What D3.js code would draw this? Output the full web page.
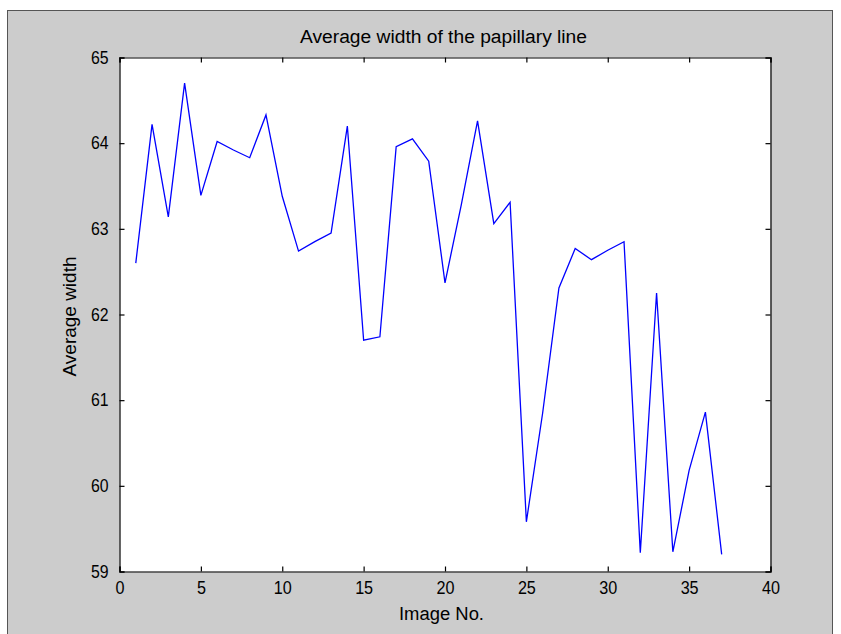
<!DOCTYPE html>
<html>
<head>
<meta charset="utf-8">
<script src="https://cdn.jsdelivr.net/npm/d3@7"></script>
<style>
  html, body { margin: 0; padding: 0; background: #ffffff; }
  svg { display: block; }
  text { font-family: "Liberation Sans", Arial, sans-serif; fill: #000; }
</style>
</head>
<body>
<svg id="chart" width="841" height="634"></svg>
<script>
const imageNo = [1,2,3,4,5,6,7,8,9,10,11,12,13,14,15,16,17,18,19,20,21,22,23,24,25,26,27,28,29,30,31,32,33,34,35,36,37];
const avgWidth = [62.60,64.22,63.14,64.70,63.39,64.02,63.92,63.83,64.33,63.38,62.74,62.85,62.95,64.20,61.70,61.74,63.96,64.05,63.79,62.37,63.28,64.26,63.06,63.31,59.58,60.85,62.31,62.77,62.64,62.75,62.85,59.22,62.25,59.23,60.18,60.86,59.20];
const xTicks = [0,5,10,15,20,25,30,35,40];
const yTicks = [59,60,61,62,63,64,65];
const titleText = "Average width of the papillary line";
const xLabel = "Image No.";
const yLabel = "Average width";

const svg = d3.select("#chart");

// figure background (MATLAB grey)
svg.append("rect").attr("x", 7.5).attr("y", 10.5).attr("width", 825).attr("height", 630)
  .attr("fill", "#cccccc").attr("stroke", "#555").attr("stroke-width", 1);

const pLeft = 119.5, pRight = 770.5, pTop = 57.5, pBottom = 571.5;
const x = d3.scaleLinear().domain([0, 40]).range([pLeft, pRight]);
const y = d3.scaleLinear().domain([59, 65]).range([pBottom, pTop]);

svg.append("rect").attr("x", pLeft).attr("y", pTop).attr("width", pRight - pLeft).attr("height", pBottom - pTop)
  .attr("fill", "#ffffff");

const tickLen = 5;
const fs = 18;

const gx = svg.append("g").attr("transform", `translate(0,${pBottom})`)
  .call(d3.axisBottom(x).tickValues(xTicks).tickSize(-tickLen).tickPadding(10).tickFormat(d3.format("d")));
const gxt = svg.append("g").attr("transform", `translate(0,${pTop})`)
  .call(d3.axisTop(x).tickValues(xTicks).tickSize(-tickLen).tickFormat(""));
const gy = svg.append("g").attr("transform", `translate(${pLeft},0)`)
  .call(d3.axisLeft(y).tickValues(yTicks).tickSize(-tickLen).tickPadding(11).tickFormat(d3.format("d")));
const gyr = svg.append("g").attr("transform", `translate(${pRight},0)`)
  .call(d3.axisRight(y).tickValues(yTicks).tickSize(-tickLen).tickFormat(""));

[gx, gxt, gy, gyr].forEach(g => {
  g.selectAll(".domain").attr("stroke", "#000").attr("stroke-width", 1.2);
  g.selectAll(".tick line").attr("stroke", "#000").attr("stroke-width", 1.2);
  g.selectAll("text").attr("font-family", "'Liberation Sans', Arial, sans-serif")
    .attr("font-size", fs).attr("fill", "#000");
});
gx.selectAll(".tick text").attr("dy", "0.71em")
  .attr("textLength", d => String(d).length * 9).attr("lengthAdjust", "spacingAndGlyphs");
gy.selectAll(".tick text")
  .attr("textLength", d => String(d).length * 8.8).attr("lengthAdjust", "spacingAndGlyphs");

const line = d3.line().x((d, i) => x(imageNo[i])).y(d => y(d));
svg.append("path").datum(avgWidth)
  .attr("d", line)
  .attr("fill", "none")
  .attr("stroke", "#0000ff")
  .attr("stroke-width", 1.3);

svg.append("text").attr("x", 443.5).attr("y", 43)
  .attr("text-anchor", "middle").attr("font-size", fs)
  .attr("textLength", 287).attr("lengthAdjust", "spacingAndGlyphs").text(titleText);

svg.append("text").attr("x", 441.5).attr("y", 620)
  .attr("text-anchor", "middle").attr("font-size", fs)
  .attr("textLength", 85).attr("lengthAdjust", "spacingAndGlyphs").text(xLabel);

svg.append("text").attr("transform", `translate(76,316.5) rotate(-90)`)
  .attr("text-anchor", "middle").attr("font-size", fs)
  .attr("textLength", 120).attr("lengthAdjust", "spacingAndGlyphs").text(yLabel);
</script>
</body>
</html>
